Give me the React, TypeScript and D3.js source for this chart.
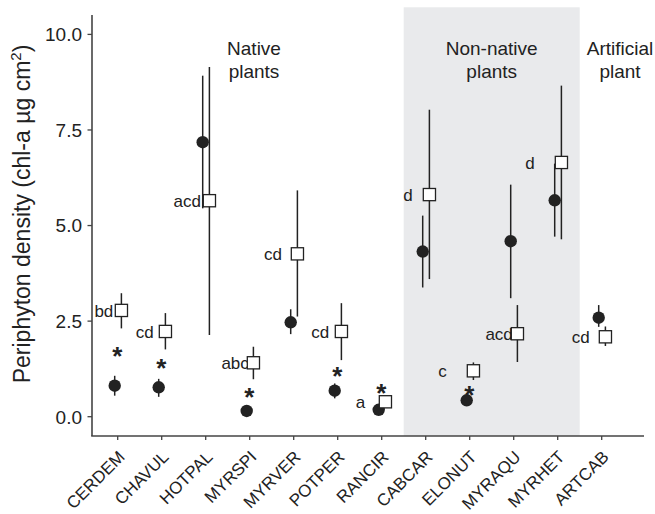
import React from "react";
import * as d3 from "d3";

const categories = ["CERDEM", "CHAVUL", "HOTPAL", "MYRSPI", "MYRVER", "POTPER", "RANCIR", "CABCAR", "ELONUT", "MYRAQU", "MYRHET", "ARTCAB"];
// filled circles
const circleMean = [0.81, 0.77, 7.18, 0.15, 2.47, 0.68, 0.18, 4.32, 0.43, 4.59, 5.66, 2.59];
const circleLow = [0.55, 0.52, 5.45, 0.15, 2.16, 0.48, 0.18, 3.38, 0.43, 3.1, 4.71, 2.35];
const circleHigh = [1.07, 0.99, 8.92, 0.15, 2.81, 0.87, 0.18, 5.26, 0.43, 6.07, 6.62, 2.92];
// open squares
const squareMean = [2.78, 2.23, 5.65, 1.41, 4.26, 2.23, 0.39, 5.81, 1.2, 2.17, 6.65, 2.09];
const squareLow = [2.31, 1.76, 2.14, 0.98, 2.62, 1.48, 0.34, 3.6, 0.96, 1.43, 4.64, 1.85];
const squareHigh = [3.23, 2.71, 9.15, 1.83, 5.92, 2.97, 0.44, 8.03, 1.42, 2.92, 8.66, 2.36];
const letters = ["bd", "cd", "acd", "abc", "cd", "cd", "a", "d", "c", "acd", "d", "cd"];
const starAt: (number | null)[] = [1.72, 1.41, null, 0.65, null, 1.2, 0.74, null, 0.7, null, null, null];
const yTicks = [0, 2.5, 5, 7.5, 10];
const groups = [
  { lines: ["Native", "plants"], from: 0, to: 6, shaded: false },
  { lines: ["Non-native", "plants"], from: 7, to: 10, shaded: true },
  { lines: ["Artificial", "plant"], from: 11, to: 11, shaded: false },
];

// layout (not data)
const labelGap = [2, 5.7, 2.3, -1.5, 9.4, 6, 14, 10.6, 20.6, -1.5, 20.7, 9.7];
const groupLabelX = [254, 491.7, 620];

const W = 655, H = 514;
const axisX = 92, axisY = 436;
const ink = "#222";
const font = "'Liberation Sans', Arial, Helvetica, sans-serif";

export default function App() {
  const x = d3.scalePoint<string>().domain(categories).range([117.7, 601.7]).padding(0);
  const y = d3.scaleLinear().domain([0, 10]).range([416.7, 34.4]);
  const step = x.step();
  const cOff = -3, sOff = 3.7, r = 6.2, side = 12.2;
  const yFmt = d3.format(".1f");

  return (
    <svg width={W} height={H} style={{ position: "absolute", left: 0, top: 0, background: "#fff" }} fontFamily={font}>
      {/* shaded group */}
      {groups.filter(g => g.shaded).map((g, i) => (
        <rect key={i} x={x(categories[g.from])! - step / 2} y={7.3}
          width={x(categories[g.to])! - x(categories[g.from])! + step} height={axisY - 7.3} fill="#e9eaec" />
      ))}
      {/* group labels */}
      {groups.map((g, i) => (
        <text key={i} x={groupLabelX[i]} y={55} textAnchor="middle" fontSize={19} fill={ink}>
          {g.lines.map((l, j) => (
            <tspan key={j} x={groupLabelX[i]} dy={j === 0 ? 0 : 23}>{l}</tspan>
          ))}
        </text>
      ))}
      {/* axes */}
      <line x1={axisX} x2={axisX} y1={15} y2={axisY} stroke="#444" strokeWidth={1.6} />
      <line x1={axisX - 0.8} x2={644} y1={axisY} y2={axisY} stroke="#444" strokeWidth={1.6} />
      {yTicks.map(t => (
        <g key={t}>
          <line x1={axisX - 4.5} x2={axisX} y1={y(t)} y2={y(t)} stroke="#444" strokeWidth={1.3} />
          <text x={82} y={y(t)} dy="0.36em" textAnchor="end" fontSize={19} fill={ink}>{yFmt(t)}</text>
        </g>
      ))}
      {categories.map(c => (
        <g key={c}>
          <line x1={x(c)} x2={x(c)} y1={axisY} y2={axisY + 4} stroke="#444" strokeWidth={1.3} />
          <text transform={`translate(${x(c)! + 8},${axisY + 22}) rotate(-45)`} textAnchor="end" fontSize={17} fill={ink}>{c}</text>
        </g>
      ))}
      {/* y title */}
      <text transform={`translate(30,214) rotate(-90)`} textAnchor="middle" fontSize={23} fill={ink}>
        Periphyton density (chl-a µg cm<tspan fontSize={15} dy={-9}>2</tspan><tspan dy={9}>)</tspan>
      </text>
      {/* circles */}
      {categories.map((c, i) => {
        const cx = x(c)! + cOff;
        return (
          <g key={c}>
            <line x1={cx} x2={cx} y1={y(circleLow[i])} y2={y(circleHigh[i])} stroke={ink} strokeWidth={1.5} />
            <circle cx={cx} cy={y(circleMean[i])} r={r} fill={ink} />
          </g>
        );
      })}
      {/* letters */}
      {categories.map((c, i) => (
        <text key={c} x={x(c)! + sOff - side / 2 - labelGap[i]} y={y(squareMean[i])} dy="0.36em"
          textAnchor="end" fontSize={17} fill={ink}>{letters[i]}</text>
      ))}
      {/* squares */}
      {categories.map((c, i) => {
        const sx = x(c)! + sOff;
        return (
          <g key={c}>
            <line x1={sx} x2={sx} y1={y(squareLow[i])} y2={y(squareHigh[i])} stroke={ink} strokeWidth={1.5} />
            <rect x={sx - side / 2} y={y(squareMean[i]) - side / 2} width={side} height={side}
              fill="#fff" stroke={ink} strokeWidth={1.3} />
          </g>
        );
      })}
      {/* stars */}
      {categories.map((c, i) => starAt[i] == null ? null : (
        <text key={c} x={x(c)! - 0.5} y={y(starAt[i]!) + 14} textAnchor="middle" fontSize={26} fontWeight="bold" fill={ink}>*</text>
      ))}
    </svg>
  );
}
